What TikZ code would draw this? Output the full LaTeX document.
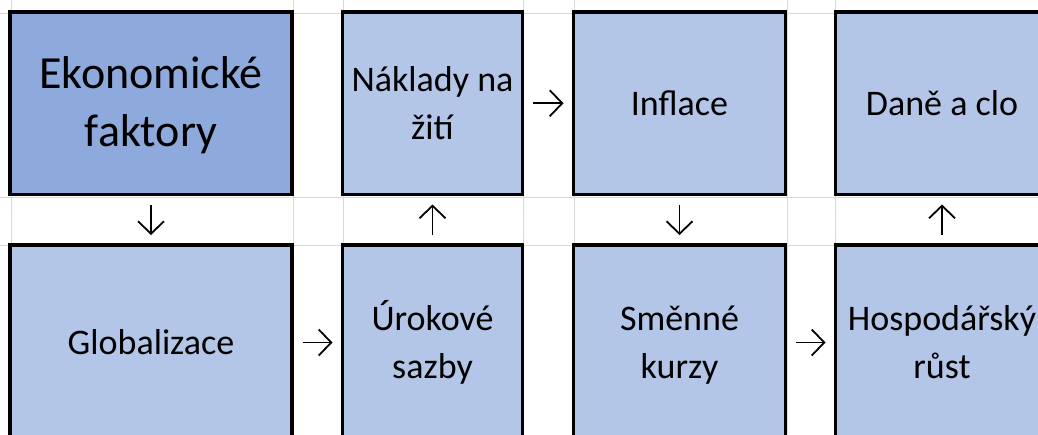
\documentclass[tikz,border=0pt]{standalone}
\usepackage{fontspec}
\setmainfont{Carlito}
\usetikzlibrary{arrows.meta}
\definecolor{darkfill}{HTML}{8EA9DB}
\definecolor{lightfill}{HTML}{B4C6E7}
\definecolor{gridgray}{HTML}{D9D9D9}
\newcommand{\mybigstrut}{\vrule height 42.75pt depth 15.25pt width 0pt}
\newcommand{\mysmallstrut}{\vrule height 36pt depth 12pt width 0pt}
\newcommand{\bigtxt}{\fontsize{46}{58}\selectfont}
\newcommand{\smalltxt}{\fontsize{36}{48}\selectfont}
\begin{document}
\begin{tikzpicture}[x=1pt,y=-1pt,
  box/.style={draw=black,line width=3.5pt,fill=lightfill,outer sep=0pt,inner sep=0pt,align=center,font=\smalltxt},
  toprow/.style={minimum height=182.5pt},
  botrow/.style={minimum height=195pt},
  gridline/.style={draw=gridgray,line width=1pt},
  arr/.style={line width=1.8pt,-{Straight Barb[length=12.5pt,width=26pt]},shorten <=10.5pt,shorten >=10pt}]
\useasboundingbox (0,0) rectangle (1038,434);
\clip (0,0) rectangle (1038,434);
\fill[white] (0,0) rectangle (1038,434);
% spreadsheet grid
\foreach \x in {11,293,343,523,574,787,835} \draw[gridline] (\x,0) -- (\x,434);
\foreach \y in {13,197,245} \draw[gridline] (0,\y) -- (1038,\y);
% top row
\node[box,toprow,fill=darkfill,minimum width=282pt,font=\bigtxt] (eko) at (151,103.25) {Ekonomické\mybigstrut\\faktory\mybigstrut};
\node[box,toprow,minimum width=180pt] (nak) at (432.5,103.25) {Náklady na\mysmallstrut\\žití\mysmallstrut};
\node[box,toprow,minimum width=212pt] (infl) at (679.5,103.25) {Inflace\mysmallstrut};
\node[box,toprow,minimum width=213pt] (dane) at (942,103.25) {Daně a clo\mysmallstrut};
% bottom row
\node[box,botrow,minimum width=282pt] (glob) at (151,342.5) {Globalizace\mysmallstrut};
\node[box,botrow,minimum width=180pt] (urok) at (432.5,342.5) {Úrokové\mysmallstrut\\sazby\mysmallstrut};
\node[box,botrow,minimum width=212pt] (smen) at (679.5,342.5) {Směnné\mysmallstrut\\kurzy\mysmallstrut};
\node[box,botrow,minimum width=213pt] (hosp) at (942,342.5) {Hospodářský\mysmallstrut\\růst\mysmallstrut};
% arrows
\draw[arr] (eko) -- (glob);
\draw[arr] (glob) -- (urok);
\draw[arr] (urok) -- (nak);
\draw[arr] (nak) -- (infl);
\draw[arr] (infl) -- (smen);
\draw[arr] (smen) -- (hosp);
\draw[arr] (hosp) -- (dane);
\end{tikzpicture}
\end{document}
